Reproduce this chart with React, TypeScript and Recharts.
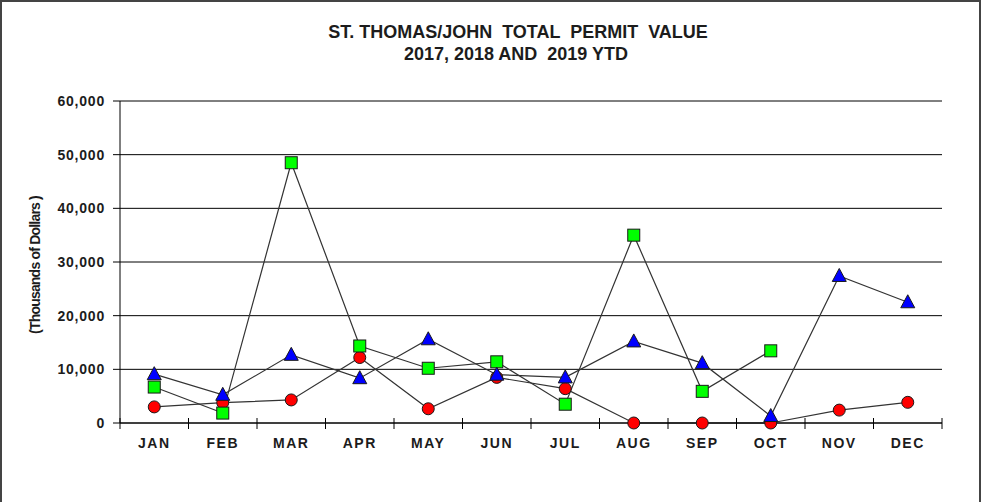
import React from "react";
import { LineChart, Line, XAxis, YAxis, CartesianGrid } from "recharts";

const months = ["JAN", "FEB", "MAR", "APR", "MAY", "JUN", "JUL", "AUG", "SEP", "OCT", "NOV", "DEC"];
const values2017 = [3000, 3800, 4300, 12200, 2650, 8500, 6400, 0, 0, 0, 2400, 3850];
const values2018 = [9100, 5250, 12700, 8350, 15600, 9000, 8500, 15200, 11150, 1300, 27400, 22500];
const values2019 = [6700, 1850, 48500, 14350, 10200, 11400, 3500, 35000, 5900, 13450, null, null];
const yTicks = [0, 10000, 20000, 30000, 40000, 50000, 60000];

const data = months.map((m, i) => ({
  month: m,
  y2017: values2017[i],
  y2018: values2018[i],
  y2019: values2019[i],
}));

const FONT = "'Liberation Sans', Arial, sans-serif";
const TEXT = "#1c1c1c";

const Circle = (p: any) => {
  if (p.value == null || p.cx == null) return null;
  return <circle cx={p.cx} cy={p.cy} r={6} fill="#ff0000" stroke="#1a1a1a" strokeWidth={1} />;
};
const Square = (p: any) => {
  if (p.value == null || p.cx == null) return null;
  return <rect x={p.cx - 6} y={p.cy - 6} width={12} height={12} fill="#00ff00" stroke="#1a1a1a" strokeWidth={1} />;
};
const Triangle = (p: any) => {
  if (p.value == null || p.cx == null) return null;
  const { cx, cy } = p;
  return <path d={`M${cx},${cy - 7.5} L${cx + 7},${cy + 5.5} L${cx - 7},${cy + 5.5} Z`} fill="#0000ff" stroke="#1a1a1a" strokeWidth={1} />;
};

const XTick = (props: any) => {
  const { x, y, payload, index } = props;
  const off = payload.offset || 0;
  const last = index === months.length - 1;
  return (
    <g>
      <line x1={x - off} x2={x - off} y1={y - 5} y2={y + 6} stroke="#000" strokeWidth={1} />
      {last && <line x1={x + off} x2={x + off} y1={y - 5} y2={y + 6} stroke="#000" strokeWidth={1} />}
      <text x={x} y={y + 25} textAnchor="middle" fill={TEXT} fontFamily={FONT} fontWeight="bold" fontSize={14} letterSpacing={1.5}>
        {payload.value}
      </text>
    </g>
  );
};

export default function App() {
  return (
    <div style={{ position: "absolute", left: 0, top: 0, width: 982, height: 502, background: "#fff" }}>
      <div
        style={{
          position: "absolute",
          left: 0,
          top: 0,
          width: 977,
          height: 502,
          borderTop: "2px solid #444",
          borderLeft: "2px solid #444",
          borderRight: "2px solid #444",
        }}
      />
      <div style={{ position: "absolute", left: 0, top: 0 }}>
        <LineChart width={982} height={502} data={data} margin={{ top: 101, right: 40, left: 0, bottom: 0 }}>
          <CartesianGrid horizontal vertical={false} stroke="#000" strokeWidth={1} />
          <XAxis
            dataKey="month"
            scale="band"
            height={79}
            tickSize={0}
            tickMargin={0}
            tickLine={false}
            axisLine={{ stroke: "#000", strokeWidth: 1 }}
            tick={<XTick />}
            interval={0}
          />
          <YAxis
            width={120}
            domain={[0, 60000]}
            ticks={yTicks}
            tickSize={7}
            tickMargin={8}
            tickLine={{ stroke: "#000" }}
            axisLine={{ stroke: "#000", strokeWidth: 1 }}
            tickFormatter={(v: number) => v.toLocaleString("en-US")}
            tick={{ fill: TEXT, fontFamily: FONT, fontWeight: "bold", fontSize: 14, letterSpacing: 0.8 }}
            interval={0}
          />
          <Line dataKey="y2017" stroke="#333" strokeWidth={1.2} dot={<Circle />} isAnimationActive={false} />
          <Line dataKey="y2019" stroke="#333" strokeWidth={1.2} dot={<Square />} isAnimationActive={false} />
          <Line dataKey="y2018" stroke="#333" strokeWidth={1.2} dot={<Triangle />} isAnimationActive={false} />
        </LineChart>
      </div>
      <svg width={982} height={502} style={{ position: "absolute", left: 0, top: 0, pointerEvents: "none" }}>
        <text x={518} y={38} textAnchor="middle" fill={TEXT} fontFamily={FONT} fontWeight="bold" fontSize={18} style={{ whiteSpace: "pre" }}>
          {"ST. THOMAS/JOHN  TOTAL  PERMIT  VALUE"}
        </text>
        <text x={516} y={60} textAnchor="middle" fill={TEXT} fontFamily={FONT} fontWeight="bold" fontSize={18} style={{ whiteSpace: "pre" }}>
          {"2017, 2018 AND  2019 YTD"}
        </text>
        <text x={0} y={0} transform="translate(40,265) rotate(-90)" textAnchor="middle" fill={TEXT} fontFamily={FONT} fontWeight="bold" fontSize={14} letterSpacing={-0.8} style={{ whiteSpace: "pre" }}>
          {"(Thousands of Dollars )"}
        </text>
      </svg>
    </div>
  );
}
